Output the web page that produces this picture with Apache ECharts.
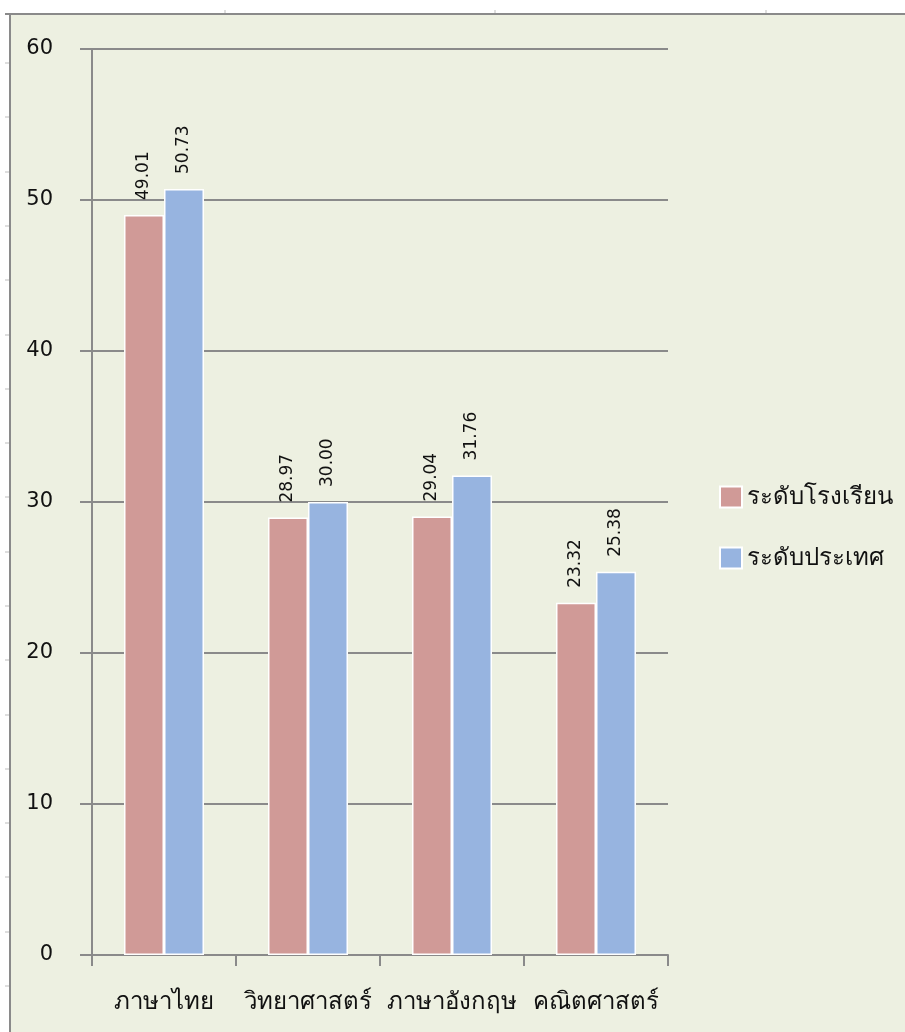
<!DOCTYPE html>
<html>
<head>
<meta charset="utf-8">
<script src="https://cdn.jsdelivr.net/npm/echarts@6/dist/echarts.min.js"></script>
<style>
html,body{margin:0;padding:0;background:#ffffff;}
#c{width:905px;height:1032px;}
</style>
</head>
<body>
<div id="c"></div>
<script>
const categories = ['ภาษาไทย', 'วิทยาศาสตร์', 'ภาษาอังกฤษ', 'คณิตศาสตร์'];
const schoolName = 'ระดับโรงเรียน';
const nationName = 'ระดับประเทศ';
const schoolValues = [49.01, 28.97, 29.04, 23.32];
const nationValues = [50.73, 30.00, 31.76, 25.38];
const yTicks = [0, 10, 20, 30, 40, 50, 60];

const FONT = '"DejaVu Sans", "Noto Sans", sans-serif';
const THAI = '"Noto Sans", "DejaVu Sans", sans-serif';
const GRAY = '#8a8a8a';

const chart = echarts.init(document.getElementById('c'), null, {renderer: 'canvas'});

// ruler ticks decoration
const rulerEls = [];
for (let y = 63; y < 1032; y += 54.3) {
  rulerEls.push({type: 'line', silent: true, z: -5, shape: {x1: 5, y1: Math.round(y), x2: 9, y2: Math.round(y)}, style: {stroke: '#bdbdbd', lineWidth: 1}});
}
[225, 495, 766].forEach(x => {
  rulerEls.push({type: 'line', silent: true, z: -5, shape: {x1: x, y1: 10, x2: x, y2: 14}, style: {stroke: '#bdbdbd', lineWidth: 1}});
});

const labelCfg = {
  show: true,
  position: 'top',
  rotate: 90,
  align: 'left',
  verticalAlign: 'middle',
  distance: 15,
  fontSize: 17,
  fontFamily: FONT,
  color: '#111',
  formatter: p => Number(p.value).toFixed(2)
};

chart.setOption({
  animation: false,
  backgroundColor: '#ffffff',
  graphic: [
    {type: 'rect', silent: true, z: -10, shape: {x: 10, y: 14, width: 895, height: 1018}, style: {fill: '#edf0e1'}},
    {type: 'line', silent: true, z: -4, shape: {x1: 5, y1: 14, x2: 905, y2: 14}, style: {stroke: GRAY, lineWidth: 2}},
    {type: 'line', silent: true, z: -4, shape: {x1: 10, y1: 14, x2: 10, y2: 1032}, style: {stroke: GRAY, lineWidth: 2}},
    ...rulerEls
  ],
  grid: {left: 92, right: 237, top: 49, bottom: 77, containLabel: false},
  legend: {
    orient: 'vertical',
    left: 714,
    top: 480,
    itemWidth: 22,
    itemHeight: 21,
    itemGap: 37,
    icon: 'rect',
    textStyle: {fontSize: 24, fontFamily: THAI, color: '#111', padding: [0, 0, 0, 0]},
    data: [schoolName, nationName]
  },
  xAxis: {
    type: 'category',
    data: categories,
    axisLine: {show: true, lineStyle: {color: GRAY, width: 2}},
    axisTick: {show: true, length: 11, alignWithLabel: false, lineStyle: {color: GRAY, width: 2}},
    axisLabel: {fontSize: 24, fontFamily: THAI, color: '#111', margin: 35, interval: 0}
  },
  yAxis: {
    type: 'value',
    min: yTicks[0],
    max: yTicks[yTicks.length - 1],
    interval: 10,
    axisLine: {show: true, lineStyle: {color: GRAY, width: 2}},
    axisTick: {show: true, length: 12, lineStyle: {color: GRAY, width: 2}},
    splitLine: {show: true, lineStyle: {color: GRAY, width: 2}},
    axisLabel: {fontSize: 21, fontFamily: FONT, color: '#111', margin: 39}
  },
  series: [
    {
      name: schoolName,
      type: 'bar',
      data: schoolValues,
      barWidth: 40,
      barGap: '0%',
      itemStyle: {color: '#d09a97', borderColor: '#ffffff', borderWidth: 1.5},
      label: labelCfg
    },
    {
      name: nationName,
      type: 'bar',
      data: nationValues,
      barWidth: 40,
      barGap: '0%',
      itemStyle: {color: '#97b4e0', borderColor: '#ffffff', borderWidth: 1.5},
      label: labelCfg
    }
  ]
});
</script>
</body>
</html>
